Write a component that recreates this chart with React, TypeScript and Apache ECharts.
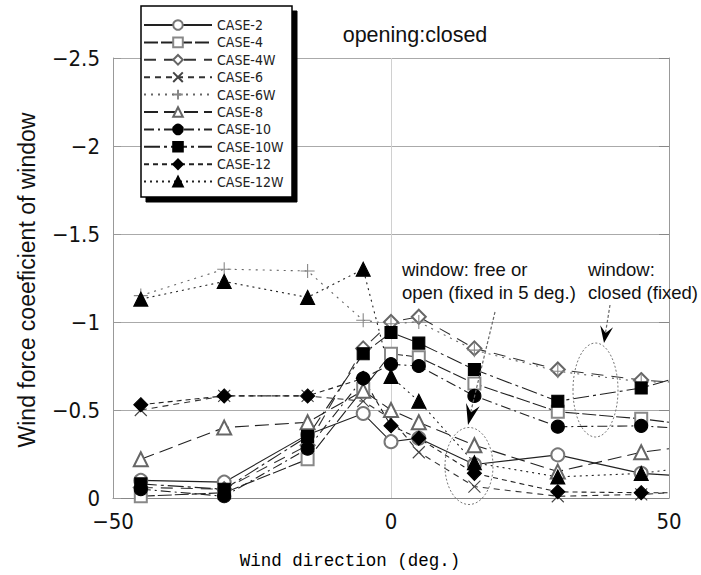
import React, { useEffect, useRef } from 'react';
import * as echarts from 'echarts';

// Wind direction (deg.) at which each case was measured; 50 is the plot edge.
const windDirection = [-45, -30, -15, -5, 0, 5, 15, 30, 45, 50];

// Wind force coefficient of the window for each case.
const case2 = [-0.1, -0.09, -0.36, -0.48, -0.32, -0.34, -0.19, -0.245, -0.14, -0.13];
const case4 = [-0.01, -0.03, -0.22, -0.62, -0.82, -0.8, -0.65, -0.49, -0.45, -0.43];
const case4W = [-0.06, -0.05, -0.3, -0.85, -1.0, -1.03, -0.85, -0.73, -0.67, -0.66];
const case6 = [-0.5, -0.58, -0.58, -0.55, -0.45, -0.26, -0.065, -0.01, -0.02, -0.03];
const case6W = [-1.15, -1.3, -1.29, -1.01, -0.99, -1.0, -0.84, -0.72, -0.66, -0.66];
const case8 = [-0.22, -0.4, -0.43, -0.61, -0.5, -0.43, -0.3, -0.15, -0.26, -0.28];
const case10 = [-0.05, -0.01, -0.28, -0.68, -0.76, -0.75, -0.58, -0.405, -0.41, -0.4];
const case10W = [-0.08, -0.05, -0.35, -0.82, -0.94, -0.88, -0.73, -0.55, -0.625, -0.67];
const case12 = [-0.53, -0.58, -0.58, -0.68, -0.41, -0.34, -0.14, -0.035, -0.03, -0.03];
const case12W = [-1.13, -1.23, -1.14, -1.3, -0.69, -0.55, -0.2, -0.12, -0.14, -0.16];

const caseNames = [
  'CASE-2', 'CASE-4', 'CASE-4W', 'CASE-6', 'CASE-6W',
  'CASE-8', 'CASE-10', 'CASE-10W', 'CASE-12', 'CASE-12W',
];
const caseValues = [case2, case4, case4W, case6, case6W, case8, case10, case10W, case12, case12W];

const CROSS = 'path://M0,0L10,10M10,0L0,10';
const PLUS = 'path://M5,0L5,10M0,5L10,5';

const caseStyles: { symbol: string; size: number; marker: string; line: string; dash: any }[] = [
  { symbol: 'emptyCircle', size: 13, marker: '#777', line: '#222', dash: 'solid' },
  { symbol: 'emptyRect', size: 12, marker: '#888', line: '#222', dash: [14, 3] },
  { symbol: 'emptyDiamond', size: 14, marker: '#666', line: '#333', dash: [12, 8] },
  { symbol: CROSS, size: 12, marker: '#444', line: '#333', dash: [6, 5] },
  { symbol: PLUS, size: 14, marker: '#888', line: '#666', dash: [2, 5] },
  { symbol: 'emptyTriangle', size: 14, marker: '#666', line: '#222', dash: [14, 6] },
  { symbol: 'circle', size: 13, marker: '#000', line: '#222', dash: [10, 4, 2, 4] },
  { symbol: 'rect', size: 12, marker: '#000', line: '#222', dash: [16, 4, 3, 4] },
  { symbol: 'diamond', size: 14, marker: '#000', line: '#222', dash: [5, 4] },
  { symbol: 'triangle', size: 14, marker: '#000', line: '#222', dash: [2, 4] },
];

const SANS = '"Liberation Sans", Arial, sans-serif';
const NARROW = '"Liberation Sans Narrow", "DejaVu Sans Condensed", "Liberation Sans", sans-serif';
const MONO = '"Liberation Mono", "DejaVu Sans Mono", monospace';

// Filled, notched arrow head pointing from `from` towards `tip`.
function arrowHead(tip: number[], from: number[], len: number, halfW: number, notch: number) {
  const dx = tip[0] - from[0];
  const dy = tip[1] - from[1];
  const l = Math.hypot(dx, dy);
  const ux = dx / l;
  const uy = dy / l;
  const px = -uy;
  const py = ux;
  const bx = tip[0] - ux * len;
  const by = tip[1] - uy * len;
  return [
    [tip[0], tip[1]],
    [bx + px * halfW, by + py * halfW],
    [bx + ux * notch, by + uy * notch],
    [bx - px * halfW, by - py * halfW],
  ];
}

export default function App() {
  const ref = useRef<HTMLDivElement>(null);

  useEffect(() => {
    if (!ref.current) return;
    const chart = echarts.init(ref.current, null, { renderer: 'svg' });

    const series = caseNames.map((name, i) => {
      const st = caseStyles[i];
      return {
        name,
        type: 'line',
        yAxisIndex: 0,
        data: windDirection.map((x, k) =>
          x === 50
            ? { value: [x, caseValues[i][k]], symbol: 'none' }
            : { value: [x, caseValues[i][k]] }
        ),
        symbol: st.symbol,
        symbolSize: st.size,
        showAllSymbol: true,
        itemStyle: {
          color: st.marker,
          borderColor: st.marker,
          borderWidth: 1.1,
        },
        lineStyle: { color: st.line, width: 1.1, type: st.dash },
        emphasis: { disabled: true },
        z: 3,
      };
    });

    const arrow1From = [495, 312];
    const arrow1Tip = [468, 425];
    const arrow2From = [610, 305];
    const arrow2Tip = [604, 343];

    chart.setOption({
      animation: false,
      backgroundColor: '#fff',
      grid: { left: 113, right: 32, top: 58, bottom: 77, outerBoundsMode: 'none' },
      xAxis: {
        type: 'value',
        min: -50,
        max: 50,
        interval: 50,
        axisLine: { show: true, onZero: false, lineStyle: { color: '#888', width: 1 } },
        axisTick: { show: false },
        axisLabel: {
          margin: 12,
          fontFamily: NARROW,
          fontSize: 22,
          color: '#111',
          formatter: (v: number) => (v < 0 ? '\u2212' + Math.abs(v) : String(v)),
        },
        splitLine: { show: true, lineStyle: { color: '#d0d0d0', width: 1 } },
      },
      yAxis: [
        {
          type: 'value',
          min: -2.5,
          max: 0,
          interval: 0.5,
          inverse: true,
          axisLine: { show: true, onZero: false, lineStyle: { color: '#999', width: 1 } },
          axisTick: { show: true, inside: true, length: 8, lineStyle: { color: '#999' } },
          axisLabel: {
            margin: 13,
            fontFamily: NARROW,
            fontSize: 22,
            color: '#111',
            formatter: (v: number) => (v < 0 ? '\u2212' + Math.abs(v) : String(v)),
          },
          splitLine: { show: true, lineStyle: { color: '#aaa', width: 1 } },
        },
        {
          type: 'value',
          position: 'right',
          min: -2.5,
          max: 0,
          interval: 0.5,
          inverse: true,
          axisLine: { show: true, onZero: false, lineStyle: { color: '#999', width: 1 } },
          axisTick: { show: true, inside: true, length: 10, lineStyle: { color: '#888' } },
          axisLabel: { show: false },
          splitLine: { show: false },
        },
      ],
      legend: {
        orient: 'vertical',
        left: 141,
        top: 6,
        padding: [12, 0, 0, 2],
        itemWidth: 68,
        itemHeight: 12,
        itemGap: 3.4,
        selectedMode: false,
        z: 20,
        textStyle: { fontFamily: NARROW, fontSize: 14, color: '#222' },
        data: caseNames,
      },
      graphic: [
        // legend frame with its drop shadow
        {
          type: 'rect',
          z: 15,
          shape: { x: 146, y: 11, width: 151, height: 191 },
          style: { fill: '#000', stroke: '#000' },
        },
        {
          type: 'rect',
          z: 16,
          shape: { x: 141, y: 6, width: 151, height: 191 },
          style: { fill: '#fff', stroke: '#000', lineWidth: 1.5 },
        },
        {
          type: 'text',
          x: 415,
          y: 35,
          style: {
            text: 'opening:closed',
            fontFamily: SANS,
            fontSize: 21.5,
            fill: '#111',
            align: 'center',
            verticalAlign: 'middle',
          },
        },
        {
          type: 'text',
          x: 27,
          y: 280,
          rotation: Math.PI / 2,
          style: {
            text: 'Wind force coeeficient of window',
            fontFamily: SANS,
            fontSize: 23,
            fill: '#111',
            align: 'center',
            verticalAlign: 'middle',
          },
        },
        {
          type: 'text',
          x: 350,
          y: 561,
          style: {
            text: 'Wind direction (deg.)',
            fontFamily: MONO,
            fontSize: 17.5,
            fill: '#000',
            align: 'center',
            verticalAlign: 'middle',
          },
        },
        {
          type: 'text',
          x: 402,
          y: 257.5,
          z: 30,
          style: {
            text: 'window: free or\nopen (fixed in 5 deg.)',
            fontFamily: SANS,
            fontSize: 18.5,
            lineHeight: 23,
            fill: '#111',
            align: 'left',
            verticalAlign: 'top',
          },
        },
        {
          type: 'text',
          x: 588,
          y: 257.5,
          z: 30,
          style: {
            text: 'window:\nclosed (fixed)',
            fontFamily: SANS,
            fontSize: 18.5,
            lineHeight: 23,
            fill: '#111',
            align: 'left',
            verticalAlign: 'top',
          },
        },
        {
          type: 'ellipse',
          z: 30,
          shape: { cx: 469, cy: 466, rx: 24, ry: 38.5 },
          style: { fill: 'none', stroke: '#777', lineWidth: 1, lineDash: [2, 2] },
        },
        {
          type: 'ellipse',
          z: 30,
          shape: { cx: 595.5, cy: 390, rx: 22.5, ry: 47 },
          style: { fill: 'none', stroke: '#777', lineWidth: 1, lineDash: [2, 2] },
        },
        {
          type: 'polyline',
          z: 30,
          shape: { points: [arrow1From, [470, 415]] },
          style: { fill: 'none', stroke: '#666', lineWidth: 1.2, lineDash: [3, 2] },
        },
        {
          type: 'polygon',
          z: 30,
          shape: { points: arrowHead(arrow1Tip, arrow1From, 21, 7, 8) },
          style: { fill: '#000' },
        },
        {
          type: 'polyline',
          z: 30,
          shape: { points: [arrow2From, [605.5, 333]] },
          style: { fill: 'none', stroke: '#666', lineWidth: 1.2, lineDash: [3, 2] },
        },
        {
          type: 'polygon',
          z: 30,
          shape: { points: arrowHead(arrow2Tip, arrow2From, 17, 6.5, 7) },
          style: { fill: '#000' },
        },
      ],
      series,
    });

    return () => chart.dispose();
  }, []);

  return (
    <div
      ref={ref}
      style={{ position: 'absolute', left: 0, top: 0, width: 701, height: 575 }}
    />
  );
}
